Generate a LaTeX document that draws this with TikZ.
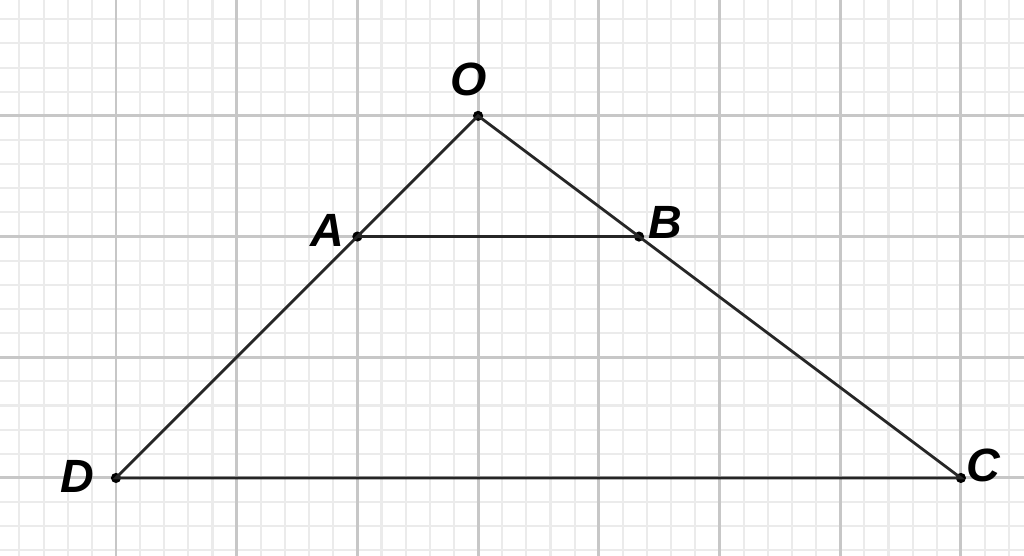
\documentclass[tikz,border=0pt]{standalone}
\usepackage{fontspec}
\setmainfont{Liberation Sans}
\usetikzlibrary{positioning,calc}

\begin{document}
\begin{tikzpicture}[
  minorgrid/.style={draw=black!8,line width=0.5pt},
  majorgrid/.style={draw=black!22,line width=0.7pt},
  seg/.style={line width=0.65pt,black!85},
  pt/.style={circle,fill=black,inner sep=0pt,minimum size=2.4pt},
  lbl/.style={font=\fontsize{11}{13}\selectfont\bfseries\itshape,inner sep=0pt}
]
\useasboundingbox (-0.961,-0.646) rectangle (7.523,3.960);
% grid
\draw[minorgrid] (-1,-0.8) grid[step=0.2] (7.6,4);
\draw[majorgrid] (-1,-0.8) grid[step=1] (7.6,4);
% points
\node[pt] (O) at (3,3) {};
\node[pt] (A) at (2,2) {};
\node[pt] (B) at (4.3333,2) {};
\node[pt] (C) at (7,0) {};
\node[pt] (D) at (0,0) {};
% sides
\draw[seg] (O.center) -- (D.center) -- (C.center) -- cycle;
\draw[seg] (A.center) -- (B.center);
% labels
\node[lbl] (lO) at ($(O)+(-0.08,0.30)$) {O};
\node[lbl] (lA) at ($(A)+(-0.25,0.05)$) {A};
\node[lbl] (lB) at ($(B)+(0.22,0.12)$) {B};
\node[lbl] (lC) at ($(C)+(0.19,0.10)$) {C};
\node[lbl] (lD) at ($(D)+(-0.32,0.01)$) {D};
\end{tikzpicture}
\end{document}
